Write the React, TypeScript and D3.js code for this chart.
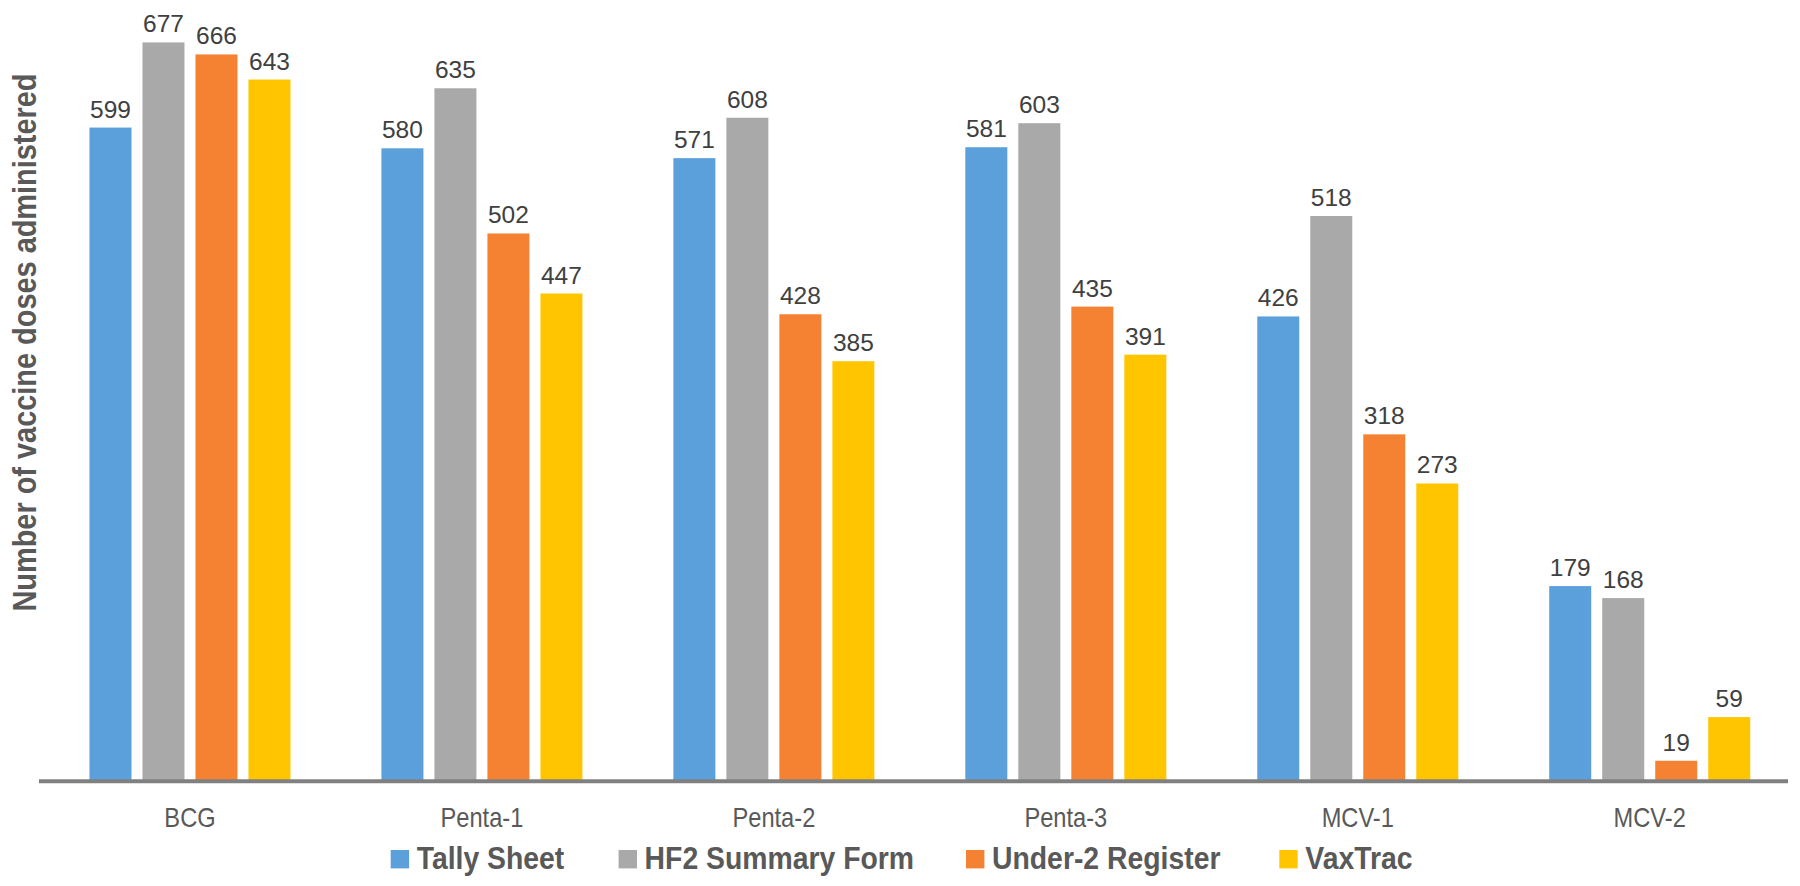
import React from "react";
import * as d3 from "d3";

const categories = ["BCG", "Penta-1", "Penta-2", "Penta-3", "MCV-1", "MCV-2"];
const seriesNames = ["Tally Sheet", "HF2 Summary Form", "Under-2 Register", "VaxTrac"];
const tallySheet = [599, 580, 571, 581, 426, 179];
const hf2Summary = [677, 635, 608, 603, 518, 168];
const under2Register = [666, 502, 428, 435, 318, 19];
const vaxTrac = [643, 447, 385, 391, 273, 59];
const seriesValues = [tallySheet, hf2Summary, under2Register, vaxTrac];
const colors = ["#5B9FDB", "#A9A9A9", "#F58233", "#FFC600"];

const W = 1800;
const H = 886;

export default function App() {
  const x0 = d3.scaleBand<string>().domain(categories).range([44, 1795.7]).padding(0);
  const groupW = 201;
  const x1 = d3.scaleBand<string>().domain(seriesNames).range([0, groupW]).paddingInner(11 / 53).paddingOuter(0);
  const y = d3.scaleLinear().domain([0, 700]).range([781.5, 781.5 - 700 * 1.0917]);

  const legendX = [390.7, 618.6, 966, 1279.3];
  const legendFont = 30.5;

  return (
    <svg width={W} height={H} style={{ position: "absolute", left: 0, top: 0, background: "#fff" }}
      fontFamily="'Liberation Sans', Arial, sans-serif">
      <rect x={0} y={0} width={W} height={H} fill="#fff" />
      {/* Y axis title */}
      <text
        transform={`translate(35.5, ${(73.3 + 611.7) / 2}) rotate(-90)`}
        textAnchor="middle"
        fontSize={32.5}
        fontWeight="bold"
        fill="#595959"
        textLength={538}
        lengthAdjust="spacingAndGlyphs"
      >
        Number of vaccine doses administered
      </text>
      {/* Bars */}
      {categories.map((cat, ci) => {
        const gx = (x0(cat) as number) + (x0.bandwidth() - groupW) / 2;
        return (
          <g key={cat}>
            {seriesNames.map((s, si) => {
              const v = seriesValues[si][ci];
              const bx = gx + (x1(s) as number);
              const by = y(v);
              return (
                <g key={s}>
                  <rect x={bx} y={by} width={x1.bandwidth()} height={y(0) - by} fill={colors[si]} />
                  <text x={bx + x1.bandwidth() / 2} y={by - 10} textAnchor="middle" fontSize={24.5} fill="#404040">
                    {v}
                  </text>
                </g>
              );
            })}
          </g>
        );
      })}
      {/* X axis line */}
      <line x1={39} x2={1788} y1={781.3} y2={781.3} stroke="#808080" strokeWidth={4} />
      {/* X labels */}
      {categories.map((cat) => {
        const cx = (x0(cat) as number) + x0.bandwidth() / 2;
        return (
          <text key={cat} transform={`translate(${cx}, 827) scale(0.83, 1)`} textAnchor="middle" fontSize={28.5} fill="#595959">
            {cat}
          </text>
        );
      })}
      {/* Legend */}
      {seriesNames.map((s, si) => (
        <g key={s}>
          <rect x={legendX[si]} y={850} width={18.4} height={18.4} fill={colors[si]} />
          <text transform={`translate(${legendX[si] + 26}, 869) scale(0.93, 1)`} fontSize={legendFont} fontWeight="bold" fill="#595959">
            {s}
          </text>
        </g>
      ))}
    </svg>
  );
}
